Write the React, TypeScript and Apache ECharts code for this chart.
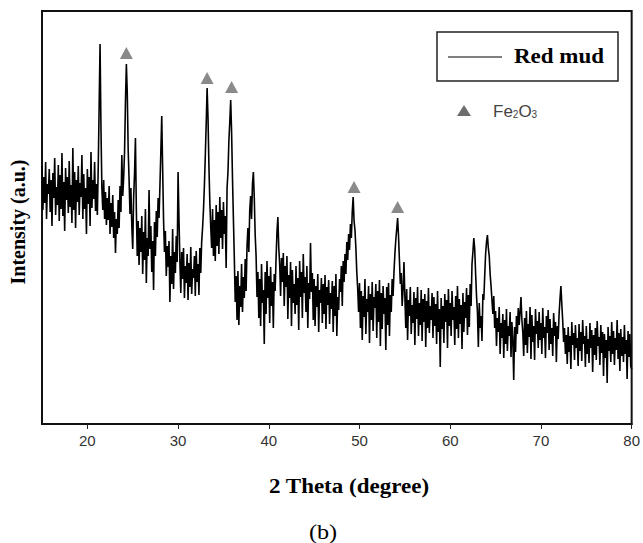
import React, { useEffect, useRef } from "react";
import * as echarts from "echarts";

// 2-theta sampling of the pattern
const thetaStart = 15;
const thetaStep = 0.1;

// Intensity (a.u.), one row per degree (x.0 ... x.9)
const intensity: number[] = [
  258, 214, 247, 221, 262, 205, 240, 230, 255, 212, // 15
  244, 198, 251, 226, 266, 209, 237, 219, 259, 203, // 16
  249, 215, 271, 208, 242, 193, 256, 224, 247, 211, // 17
  263, 217, 239, 201, 276, 214, 252, 196, 244, 222, // 18
  258, 209, 241, 227, 269, 205, 250, 215, 236, 190, // 19
  255, 220, 247, 198, 272, 216, 244, 225, 262, 213, // 20
  240, 209, 257, 318, 380, 296, 236, 214, 244, 205, // 21
  232, 199, 226, 204, 238, 190, 221, 197, 229, 186, // 22
  212, 171, 205, 190, 224, 196, 238, 212, 269, 228, // 23
  246, 272, 322, 360, 331, 274, 244, 210, 236, 198, // 24
  175, 226, 250, 286, 214, 168, 203, 159, 196, 172, // 25
  208, 150, 192, 164, 215, 141, 186, 168, 234, 175, // 26
  198, 152, 183, 134, 202, 168, 213, 187, 226, 206, // 27
  238, 272, 308, 255, 204, 172, 193, 148, 178, 157, // 28
  183, 122, 168, 140, 195, 135, 172, 151, 188, 162, // 29
  252, 205, 163, 131, 172, 145, 176, 126, 158, 141, // 30
  170, 124, 161, 137, 177, 130, 155, 146, 168, 128, // 31
  173, 142, 160, 129, 176, 151, 182, 196, 214, 238, // 32
  268, 300, 336, 306, 258, 222, 197, 176, 215, 168, // 33
  204, 163, 219, 178, 212, 170, 227, 186, 214, 175, // 34
  222, 190, 208, 156, 236, 252, 283, 302, 324, 292, // 35
  245, 205, 166, 122, 148, 104, 153, 99, 138, 117, // 36
  160, 112, 147, 126, 165, 133, 178, 196, 172, 214, // 37
  228, 205, 240, 252, 226, 189, 168, 127, 152, 106, // 38
  145, 98, 160, 121, 134, 80, 152, 110, 163, 126, // 39
  148, 101, 157, 118, 142, 96, 150, 133, 165, 192, // 40
  207, 176, 160, 128, 166, 142, 171, 118, 158, 137, // 41
  168, 105, 149, 126, 162, 98, 154, 121, 140, 110, // 42
  158, 119, 146, 94, 163, 127, 152, 106, 170, 131, // 43
  147, 112, 158, 96, 141, 125, 181, 132, 151, 104, // 44
  145, 98, 138, 117, 150, 92, 134, 121, 146, 101, // 45
  140, 110, 149, 95, 137, 119, 144, 100, 131, 115, // 46
  143, 92, 138, 108, 150, 88, 127, 114, 145, 132, // 47
  158, 118, 163, 142, 170, 150, 182, 164, 190, 174, // 48
  200, 186, 212, 227, 203, 194, 176, 152, 135, 112, // 49
  141, 96, 133, 84, 128, 107, 145, 90, 125, 112, // 50
  138, 81, 130, 104, 142, 93, 127, 116, 140, 86, // 51
  133, 102, 144, 78, 131, 95, 138, 110, 126, 74, // 52
  137, 99, 141, 88, 129, 112, 145, 128, 152, 170, // 53
  184, 195, 206, 188, 164, 140, 151, 118, 134, 162, // 54
  128, 96, 135, 84, 124, 108, 137, 90, 119, 101, // 55
  132, 79, 126, 105, 137, 88, 121, 99, 134, 83, // 56
  125, 102, 130, 77, 123, 96, 136, 91, 118, 104, // 57
  131, 86, 127, 98, 120, 80, 133, 92, 115, 57, // 58
  126, 95, 118, 81, 130, 102, 124, 76, 135, 98, // 59
  121, 88, 133, 104, 117, 79, 128, 95, 138, 86, // 60
  125, 100, 119, 75, 131, 92, 122, 106, 136, 89, // 61
  129, 97, 140, 118, 160, 172, 186, 175, 150, 128, // 62
  112, 77, 121, 96, 108, 83, 130, 124, 148, 170, // 63
  182, 189, 176, 168, 150, 138, 124, 110, 128, 96, // 64
  113, 78, 106, 92, 117, 70, 101, 86, 110, 66, // 65
  104, 80, 115, 73, 98, 88, 112, 67, 102, 84, // 66
  44, 97, 72, 108, 90, 116, 99, 112, 127, 104, // 67
  92, 68, 106, 79, 113, 71, 100, 87, 117, 65, // 68
  109, 82, 98, 64, 115, 90, 103, 76, 112, 84, // 69
  101, 70, 116, 86, 97, 66, 108, 91, 114, 74, // 70
  105, 80, 96, 68, 111, 88, 102, 62, 98, 85, // 71
  110, 125, 138, 120, 103, 82, 96, 70, 89, 60, // 72
  97, 72, 88, 55, 102, 79, 91, 64, 99, 76, // 73
  86, 58, 100, 73, 92, 63, 104, 80, 88, 57, // 74
  98, 70, 85, 61, 101, 76, 94, 52, 89, 69, // 75
  96, 64, 103, 78, 87, 59, 99, 71, 92, 48, // 76
  90, 66, 84, 41, 97, 73, 88, 62, 102, 70, // 77
  93, 59, 86, 74, 104, 65, 91, 53, 95, 68, // 78
  87, 62, 99, 70, 84, 45, 93, 67, 90, 58, // 79
  55, // 80
];

// x tick labels
const xTicks = [20, 30, 40, 50, 60, 70, 80];

// Fe2O3 peak markers (2-theta, marker height)
const fe2o3Theta = [24.3, 33.2, 35.9, 49.4, 54.2];
const fe2o3MarkY = [371, 346, 337, 237, 217];

const serif = "'Liberation Serif', 'Times New Roman', serif";
const sans = "'Liberation Sans', Arial, sans-serif";

export default function App() {
  const ref = useRef<HTMLDivElement>(null);

  useEffect(() => {
    if (!ref.current) return;
    const chart = echarts.init(ref.current, undefined, { renderer: "svg" });
    const lineData = intensity.map((v, i) => [
      +(thetaStart + i * thetaStep).toFixed(1),
      v,
    ]);
    const markData = fe2o3Theta.map((t, i) => [t, fe2o3MarkY[i]]);

    chart.setOption({
      animation: false,
      backgroundColor: "#fff",
      grid: {
        left: 42,
        right: 10,
        top: 11,
        bottom: 119,
        show: true,
        borderColor: "#111",
        borderWidth: 2,
        backgroundColor: "transparent",
      },
      xAxis: {
        type: "value",
        min: 15,
        max: 80,
        axisLine: { show: true, lineStyle: { color: "#111", width: 2 } },
        axisTick: {
          show: true,
          inside: false,
          length: 5,
          customValues: xTicks,
          lineStyle: { color: "#222", width: 1 },
        },
        axisLabel: {
          show: true,
          customValues: xTicks,
          margin: 9,
          color: "#333",
          fontSize: 15,
          fontFamily: sans,
        },
        splitLine: { show: false },
      },
      yAxis: {
        type: "value",
        min: 0,
        max: 413,
        axisLine: { show: true, lineStyle: { color: "#111", width: 2 } },
        axisTick: { show: false },
        axisLabel: { show: false },
        splitLine: { show: false },
      },
      series: [
        {
          name: "Red mud",
          type: "line",
          data: lineData,
          showSymbol: false,
          symbol: "none",
          lineStyle: { color: "#000", width: 1.6, join: "miter" },
          z: 2,
        },
        {
          name: "Fe2O3",
          type: "scatter",
          data: markData,
          symbol: "triangle",
          symbolSize: [13, 12],
          itemStyle: { color: "#6d6d6d" },
          z: 3,
        },
      ],
      graphic: [
        {
          type: "rect",
          shape: { x: 437, y: 32, width: 181, height: 49 },
          style: { fill: "#fff", stroke: "#222", lineWidth: 1.5 },
          z: 10,
        },
        {
          type: "line",
          shape: { x1: 448, y1: 57, x2: 502, y2: 57 },
          style: { stroke: "#000", lineWidth: 1 },
          z: 11,
        },
        {
          type: "text",
          x: 514,
          y: 57,
          scaleX: 1.15,
          style: {
            text: "Red mud",
            font: `bold 20px ${serif}`,
            fill: "#000",
            textAlign: "left",
            textVerticalAlign: "middle",
          },
          z: 11,
        },
        {
          type: "polygon",
          shape: { points: [[464, 105], [471, 116], [457, 116]] },
          style: { fill: "#6d6d6d" },
          z: 11,
        },
        {
          type: "text",
          x: 493,
          y: 111,
          style: {
            text: "Fe{s|2}O{s|3}",
            font: `17px ${sans}`,
            fill: "#444",
            textAlign: "left",
            textVerticalAlign: "middle",
            rich: {
              s: { fontSize: 10, fontFamily: sans, fill: "#444", padding: [6, 0, 0, 0] },
            },
          },
          z: 11,
        },
        {
          type: "text",
          x: 18,
          y: 222,
          rotation: Math.PI / 2,
          style: {
            text: "Intensity (a.u.)",
            font: `bold 20px ${serif}`,
            fill: "#000",
            textAlign: "center",
            textVerticalAlign: "middle",
          },
        },
        {
          type: "text",
          x: 349,
          y: 487,
          scaleX: 1.15,
          style: {
            text: "2 Theta (degree)",
            font: `bold 20px ${serif}`,
            fill: "#000",
            textAlign: "center",
            textVerticalAlign: "middle",
          },
        },
        {
          type: "text",
          x: 323,
          y: 531,
          scaleX: 1.1,
          style: {
            text: "(b)",
            font: `22px ${serif}`,
            fill: "#000",
            textAlign: "center",
            textVerticalAlign: "middle",
          },
        },
      ],
    });

    return () => {
      chart.dispose();
    };
  }, []);

  return (
    <div
      ref={ref}
      style={{ position: "fixed", left: 0, top: 0, width: 643, height: 543 }}
    />
  );
}
